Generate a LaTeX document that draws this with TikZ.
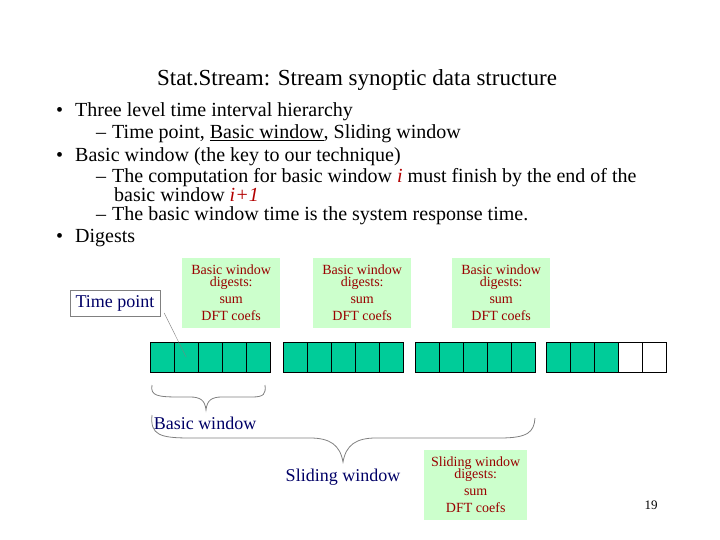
\documentclass[tikz,border=0pt]{standalone}
\usepackage{fontspec}
\setmainfont{Liberation Serif}
\begin{document}
\begin{tikzpicture}[x=1pt,y=-1pt,
 cell/.style={draw,minimum width=24pt,minimum height=30pt,anchor=north west,inner sep=0},
 dig/.style={fill=green!20,text=red!60!black,font=\fontsize{14}{13}\selectfont,align=center,anchor=north west,minimum width=98pt,minimum height=70pt,inner sep=1pt},
 bt/.style={anchor=west,font=\fontsize{20}{20}\selectfont,inner sep=0},
 lbl/.style={text=blue!40!black,font=\fontsize{18}{18}\selectfont,inner sep=1pt},
 br/.style={draw=gray,thick}]
\useasboundingbox (0,0) rectangle (720,540);
\definecolor{cf}{HTML}{00CC99}
\node[font=\fontsize{23}{23}\selectfont] (title) at (357,80) {Stat.Stream: Stream synoptic data structure};
\node[bt] (b1) at (56,112) {\textbullet\hspace{12pt}Three level time interval hierarchy};
\node[bt] (b2) at (96,134) {–\hspace{6pt}Time point, \underline{Basic window}, Sliding window};
\node[bt] (b3) at (56,157) {\textbullet\hspace{12pt}Basic window (the key to our technique)};
\node[bt] (b4) at (96,178) {–\hspace{6pt}The computation for basic window \textcolor{red!70!black}{\textit{i}} must finish by the end of the};
\node[bt] (b5) at (114,195) {basic window \textcolor{red!70!black}{\textit{i+1}}};
\node[bt] (b6) at (96,216) {–\hspace{6pt}The basic window time is the system response time.};
\node[bt] (b7) at (56,238) {\textbullet\hspace{12pt}Digests};
\foreach \g/\x in {1/150,2/283,3/415,4/546}{
  \foreach \i in {0,...,4}{
    \node[cell,fill=cf] (c\g\i) at (\x+24*\i,342) {};
  }
}
\node[cell,fill=white] at (c43.north west) {};
\node[cell,fill=white] at (c44.north west) {};
\node[dig] (d1) at (182,258) {Basic window\\[-1pt]digests:\\[4pt]sum\\[4pt]DFT coefs};
\node[dig] (d2) at (313,258) {Basic window\\[-1pt]digests:\\[4pt]sum\\[4pt]DFT coefs};
\node[dig] (d3) at (452,258) {Basic window\\[-1pt]digests:\\[4pt]sum\\[4pt]DFT coefs};
\node[dig,minimum width=103pt] (d4) at (424,450) {Sliding window\\[-1pt]digests:\\[4pt]sum\\[4pt]DFT coefs};
\node[draw=gray,lbl,minimum width=90pt,minimum height=26pt] (tp) at (115,303) {Time point};
\draw[gray] ([xshift=4pt,yshift=-10pt]tp.east) -- (c11.center);
\node[lbl] (bw) at (205,423) {Basic window};
\node[lbl] (sw) at (343,477) {Sliding window};
\draw[br] (152,385) .. controls (150,396) and (158,397) .. (180,397) -- (190,397) .. controls (200,397) and (205,400) .. (206,410)
          .. controls (207,400) and (212,397) .. (222,397) -- (252,397) .. controls (264,397) and (266,394) .. (265,385);
\draw[br] (152,415) .. controls (150,435) and (160,438) .. (190,438) -- (310,438) .. controls (330,438) and (340,445) .. (343,462)
          .. controls (346,445) and (356,438) .. (376,438) -- (500,438) .. controls (528,438) and (534,432) .. (535,418);
\node[font=\fontsize{13}{13}\selectfont] (pg) at (651,505) {19};
\end{tikzpicture}
\end{document}
